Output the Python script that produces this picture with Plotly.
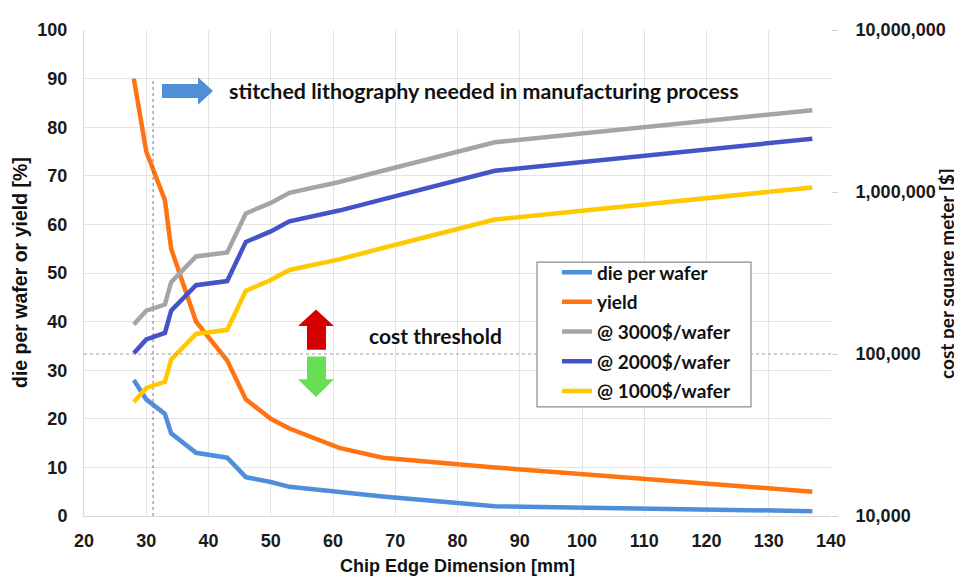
import plotly.graph_objects as go

# ---- data ----
edge_mm = [28, 30, 33, 34, 38, 43, 46, 50, 53, 61, 68, 86, 137]
die_per_wafer = [28, 24, 21, 17, 13, 12, 8, 7, 6, 5, 4, 2, 1]
yield_pct = [90, 75, 65, 55, 40, 32, 24, 20, 18, 14, 12, 10, 5]
cost_3000 = [152000, 185000, 202000, 278000, 400000, 423000, 738000, 857000, 989000,
             1152000, 1352000, 2028000, 3197000]
cost_2000 = [101000, 123000, 135000, 185000, 266000, 282000, 492000, 571000, 659000,
             768000, 901000, 1352000, 2131000]
cost_1000 = [50600, 61700, 67300, 92500, 133000, 141000, 246000, 286000, 330000,
             384000, 451000, 676000, 1066000]
right_ticks = [10000, 100000, 1000000, 10000000]
right_labels = ["10,000", "100,000", "1,000,000", "10,000,000"]
stitch_limit_mm = 31.1
cost_threshold = 100000

# ---- layout geometry (page pixels; the page body adds an 8px offset) ----
PAGE_W, PAGE_H = 962, 580
OFF = 8
W, H = PAGE_W - OFF, PAGE_H - OFF
L, R, T, B = 84, 831, 22, 516


def px(X):
    return (X - L) / (R - L)


def py(Y):
    return (B - Y) / (B - T)


TICKFONT = dict(family="Liberation Sans Narrow, Arial Narrow, Liberation Sans, Arial",
                size=18, color="#1a1a1a", weight="bold")
CAL = "Lato, Carlito, Calibri, sans-serif"

fig = go.Figure()
series = [
    ("die per wafer", die_per_wafer, "#4F8FDA", "y"),
    ("yield", yield_pct, "#FF7410", "y"),
    ("@ 3000$/wafer", cost_3000, "#A5A5A5", "y2"),
    ("@ 2000$/wafer", cost_2000, "#4453C7", "y2"),
    ("@ 1000$/wafer", cost_1000, "#FFC800", "y2"),
]
for name, vals, col, ax in series:
    fig.add_trace(go.Scatter(x=edge_mm, y=vals, name=name, mode="lines", legendgroup=name,
                             line=dict(color=col, width=4.5), yaxis=ax))

# dotted reference lines
fig.add_trace(go.Scatter(x=[stitch_limit_mm, stitch_limit_mm], y=[0, 90], mode="lines",
                         line=dict(color="#777777", width=1, dash="dot"),
                         showlegend=False, hoverinfo="skip"))
fig.add_trace(go.Scatter(x=[20, 140], y=[cost_threshold, cost_threshold], mode="lines",
                         line=dict(color="#999999", width=1, dash="dot"),
                         showlegend=False, hoverinfo="skip", yaxis="y2"))


def arrow_path(points):
    return "M " + " L ".join(f"{px(a):.5f},{py(b):.5f}" for a, b in points) + " Z"


shapes = [
    dict(type="path", xref="paper", yref="paper", fillcolor="#4E8FD6", line=dict(width=0),
         path=arrow_path([(162, 77), (198, 77), (198, 70), (213, 84), (198, 98), (198, 91), (162, 91)])),
    dict(type="path", xref="paper", yref="paper", fillcolor="#D60000", line=dict(width=0),
         path=arrow_path([(316, 306), (334, 323), (326, 323), (326, 347), (307, 347), (307, 323), (298, 323)])),
    dict(type="path", xref="paper", yref="paper", fillcolor="#66E052", line=dict(width=0),
         path=arrow_path([(307, 354), (326, 354), (326, 377), (334, 377), (316, 395), (298, 377), (307, 377)])),
    # legend frame
    dict(type="rect", xref="paper", yref="paper", layer="above",
         x0=px(537), x1=px(751), y0=py(405), y1=py(258),
         fillcolor="white", line=dict(color="#8C8C8C", width=1.2)),
]

annotations = [
    dict(text="stitched lithography needed in manufacturing process", xref="paper", yref="paper",
         x=px(227), y=py(84), xanchor="left", yanchor="middle", showarrow=False,
         font=dict(family=CAL, size=21.4, color="#111111", weight="bold")),
    dict(text="cost threshold", xref="paper", yref="paper",
         x=px(367), y=py(333), xanchor="left", yanchor="middle", showarrow=False,
         font=dict(family=CAL, size=21, color="#111111", weight="bold")),
    dict(text="die per wafer or yield [%]", xref="paper", yref="paper",
         x=px(20), y=py(269), xanchor="center", yanchor="middle", textangle=-90, showarrow=False,
         font=dict(family="Liberation Sans, Arial", size=19.5, color="#111111", weight="bold")),
    dict(text="cost per square meter [$]", xref="paper", yref="paper",
         x=px(947), y=py(270), xanchor="center", yanchor="middle", textangle=-90, showarrow=False,
         font=dict(family=CAL, size=19, color="#111111", weight="bold")),
    dict(text="Chip Edge Dimension [mm]", xref="paper", yref="paper",
         x=px(457), y=py(567), xanchor="center", yanchor="middle", showarrow=False,
         font=dict(family="Liberation Sans Narrow, Arial Narrow, Liberation Sans, Arial",
                   size=18, color="#111111", weight="bold")),
]

fig.update_layout(
    width=W, height=H,
    margin=dict(l=L - OFF, r=PAGE_W - R, t=T - OFF, b=PAGE_H - B),
    paper_bgcolor="white", plot_bgcolor="white",
    showlegend=True,
    xaxis=dict(range=[20, 140], dtick=10, tick0=20, showgrid=True, gridcolor="#E4E4E4",
               gridwidth=1, showline=True, linecolor="#D9D9D9", zeroline=False,
               tickfont=TICKFONT, ticks="", ticklabelstandoff=8),
    yaxis=dict(range=[0, 100], dtick=10, showgrid=True, gridcolor="#E4E4E4", gridwidth=1,
               showline=True, linecolor="#D9D9D9", zeroline=False, tickfont=TICKFONT,
               ticks="", ticklabelstandoff=12),
    yaxis2=dict(type="log", range=[4, 7], overlaying="y", side="right",
                tickvals=right_ticks, ticktext=right_labels, showgrid=False, zeroline=False,
                showline=False, ticks="outside", ticklen=6, tickcolor="#D0D0D0",
                tickfont=TICKFONT, ticklabelstandoff=14),
    legend=dict(x=px(557), y=py(249), xanchor="left", yanchor="top",
                bgcolor="rgba(0,0,0,0)", borderwidth=0,
                font=dict(family=CAL, size=19, color="#111111", weight="bold"),
                itemwidth=30, tracegroupgap=2),
    shapes=shapes,
    annotations=annotations,
)

fig.write_html("out.html")
